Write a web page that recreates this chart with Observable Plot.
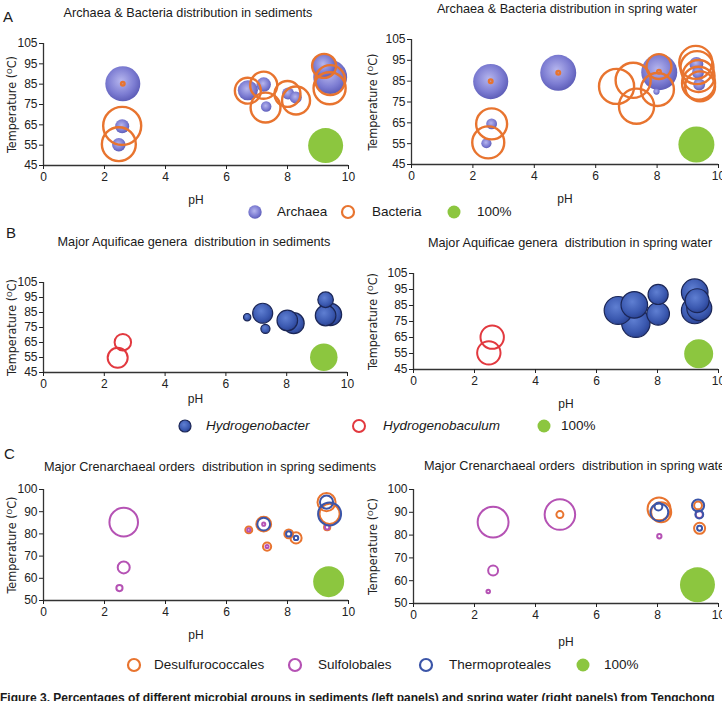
<!DOCTYPE html>
<html>
<head>
<meta charset="utf-8">
<script src="https://cdn.jsdelivr.net/npm/d3@7"></script>
<script src="https://cdn.jsdelivr.net/npm/@observablehq/plot@0.6"></script>
<style>
  body { margin: 0; background: #fff; }
  #fig { position: relative; width: 722px; height: 701px; overflow: hidden;
         font-family: "Liberation Sans", Arial, sans-serif; color: #1a1a1a; }
  .t { position: absolute; white-space: pre; line-height: 1; }
  .title { font-size: 12.7px; transform: translate(-50%, -50%); }
  .ltitle { font-size: 12.7px; transform: translateY(-50%); }
  .letter { font-size: 15px; transform: translateY(-50%); }
  .leg { font-size: 13.5px; transform: translateY(-50%); }
  .caption { font-size: 12px; font-weight: bold; }
  svg.sw { position: absolute; overflow: visible; }
</style>
</head>
<body>
<svg width="0" height="0" style="position:absolute">
  <defs>
    <radialGradient id="archaeaSphere" cx="45%" cy="42%" r="60%">
      <stop offset="0%" stop-color="#b6b6ee"/>
      <stop offset="65%" stop-color="#7c7cd2"/>
      <stop offset="100%" stop-color="#5b5bb6"/>
    </radialGradient>
    <radialGradient id="hbSphere" cx="42%" cy="38%" r="62%">
      <stop offset="0%" stop-color="#5f7fd2"/>
      <stop offset="70%" stop-color="#3b59b0"/>
      <stop offset="100%" stop-color="#2c4596"/>
    </radialGradient>
  </defs>
</svg>
<div id="fig"></div>
<script>
// Each row: pH, temperature (°C), relative abundance (%) shown as bubble size.
// Panel A — Archaea & Bacteria
const sedArchaea = [
  [2.47, 55.2, 15], [2.58, 64.3, 16], [2.60, 85.2, 100], [6.70, 82.0, 33],
  [7.22, 84.8, 17], [7.30, 74.0, 9], [8.02, 80.4, 12], [8.27, 78.4, 12],
  [9.20, 94.0, 45], [9.40, 88.5, 94]
];
const sedBacteria = [
  [2.60, 85.2, 1], [2.58, 64.5, 118], [2.47, 55.5, 94], [6.70, 81.8, 55],
  [7.22, 84.5, 60], [7.28, 73.5, 73], [8.00, 80.2, 55], [8.28, 77.0, 64],
  [9.20, 94.0, 47], [9.40, 87.0, 73], [9.38, 83.0, 84]
];
const waterArchaea = [
  [2.44, 55.2, 8], [2.61, 64.5, 9], [2.58, 84.8, 95], [4.78, 89.0, 100],
  [8.07, 89.3, 100], [7.98, 80.0, 3], [9.28, 93.3, 15], [9.33, 89.0, 11],
  [9.37, 83.4, 11]
];
const waterBacteria = [
  [2.58, 85.0, 1], [4.78, 89.0, 1], [2.61, 64.5, 74], [2.50, 55.6, 79],
  [6.68, 82.5, 95], [7.22, 85.4, 95], [7.33, 73.0, 95], [8.01, 81.0, 84],
  [8.06, 92.0, 48], [8.06, 89.5, 1], [9.26, 94.0, 84], [9.30, 91.5, 84],
  [9.35, 87.5, 79], [9.35, 84.0, 84], [9.40, 82.5, 69]
];
// Panel B — Aquificae genera
const sedHydrogenobacter = [
  [6.70, 81.9, 7], [7.21, 84.5, 53], [7.30, 74.1, 11], [8.02, 79.7, 56],
  [8.23, 77.9, 58], [9.28, 93.5, 32], [9.28, 83.0, 56], [9.44, 83.7, 66]
];
const sedHydrogenobaculum = [[2.61, 65.2, 36], [2.44, 54.8, 53]];
const waterHydrogenobacter = [
  [7.24, 85.4, 84], [6.71, 81.9, 93], [7.29, 73.9, 96], [8.02, 91.9, 48],
  [8.02, 79.8, 61], [9.30, 88.0, 68], [9.22, 93.3, 84], [9.22, 81.9, 84],
  [9.37, 83.3, 74]
];
const waterHydrogenobaculum = [[2.58, 65.2, 65], [2.47, 55.4, 65]];
// Panel C — Crenarchaeal orders
const sedDesulfurococcales = [
  [6.73, 81.8, 5], [7.22, 84.4, 23], [7.33, 74.3, 7], [8.04, 80.0, 8],
  [8.28, 78.2, 13], [9.28, 94.3, 34], [9.38, 89.0, 42], [9.30, 83.0, 4]
];
const sedSulfolobales = [
  [2.63, 85.3, 85], [2.63, 64.9, 15], [2.49, 55.6, 4], [6.73, 81.8, 1],
  [7.22, 84.4, 1], [7.33, 74.3, 1], [9.30, 83.0, 2]
];
const sedThermoproteales = [
  [7.22, 84.4, 17], [8.04, 80.0, 3], [8.28, 78.2, 2], [9.28, 94.3, 18], [9.38, 89.0, 55]
];
const waterDesulfurococcales = [
  [4.80, 89.0, 4], [8.05, 91.5, 43], [8.12, 90.0, 33], [9.33, 93.0, 5], [9.38, 83.0, 10]
];
const waterSulfolobales = [
  [2.61, 85.7, 78], [2.61, 64.5, 8], [2.45, 55.3, 1], [4.80, 89.0, 76],
  [8.06, 79.5, 1.5], [9.37, 89.0, 4]
];
const waterThermoproteales = [
  [8.06, 90.0, 26], [8.03, 92.5, 5], [9.33, 93.0, 12], [9.37, 89.0, 5], [9.38, 83.0, 2]
];
// 100% reference bubbles
const keyA = [[9.25, 54.8, 100]], keyAw = [[9.28, 54.6, 100]];
const keyB = [[9.22, 55.2, 100]], keyBw = [[9.35, 54.8, 100]];
const keyC = [[9.35, 58.5, 100]], keyCw = [[9.31, 58.2, 100]];

const pHTicks = [0, 2, 4, 6, 8, 10];
const tempTicksAB = [45, 55, 65, 75, 85, 95, 105];
const tempTicksC = [50, 60, 70, 80, 90, 100];

const ORANGE = "#e8742f", RED = "#e2393f", MAGENTA = "#b552b4", BLUE = "#3b55a8",
      GREEN = "#8cc63f", AXIS = "#333";

const fig = document.getElementById("fig");
const enc = {x: d => d[0], y: d => d[1], r: d => d[2]};
const spheres = (data, fill, extra = {}) => Plot.dot(data, {...enc, fill, ...extra});
const rings = (data, stroke, w = 2.4) => Plot.dot(data, {...enc, stroke, strokeWidth: w, fill: "none"});

function drawPanel(p) {
  const svg = Plot.plot({
    width: p.width, height: p.height,
    marginLeft: p.ml, marginRight: p.mr, marginTop: p.mt, marginBottom: p.mb,
    style: {background: "transparent", fontFamily: '"Liberation Sans", Arial, sans-serif'},
    x: {domain: [0, 10]},
    y: {domain: p.yDomain},
    r: {type: "sqrt", domain: [0, 100], range: [0, p.R]},
    marks: [
      Plot.ruleY([p.yDomain[0]], {stroke: AXIS, strokeWidth: 1.3}),
      Plot.ruleX([0], {stroke: AXIS, strokeWidth: 1.3}),
      Plot.axisX({ticks: pHTicks, tickSize: 4, tickPadding: 3, fontSize: 12, color: "#222",
        label: "pH", labelAnchor: "center", labelArrow: "none", labelOffset: p.xlo}),
      Plot.axisY({ticks: p.yTicks, tickSize: 4, tickPadding: 2, fontSize: 12, color: "#222",
        label: "Temperature (ᴼC)", labelAnchor: "center", labelArrow: "none", labelOffset: p.ml - 7}),
      ...p.layers,
      Plot.dot(p.key, {...enc, fill: GREEN})
    ]
  });
  svg.style.position = "absolute";
  svg.style.left = p.left + "px";
  svg.style.top = p.top + "px";
  d3.select(svg).selectAll('g[aria-label="y-axis label"] text')
    .style("font-family", '"Liberation Sans Narrow", "DejaVu Sans Condensed", "Liberation Sans", sans-serif')
    .style("font-size", "12.5px");
  fig.appendChild(svg);
}

drawPanel({left: 0, top: 25, width: 361, height: 190, ml: 43, mr: 13, mt: 18, mb: 50, xlo: 38,
  yDomain: [45, 105], yTicks: tempTicksAB, R: 17.5, key: keyA,
  layers: [spheres(sedArchaea, "url(#archaeaSphere)"), rings(sedBacteria, ORANGE)]});
drawPanel({left: 361, top: 21, width: 361, height: 190, ml: 50, mr: 4, mt: 18, mb: 47, xlo: 38,
  yDomain: [45, 105], yTicks: tempTicksAB, R: 18, key: keyAw,
  layers: [spheres(waterArchaea, "url(#archaeaSphere)"), rings(waterBacteria, ORANGE)]});
drawPanel({left: 0, top: 264, width: 361, height: 145, ml: 43, mr: 14, mt: 18, mb: 37, xlo: 30,
  yDomain: [45, 105], yTicks: tempTicksAB, R: 13.75, key: keyB,
  layers: [spheres(sedHydrogenobacter, "url(#hbSphere)", {stroke: "#1b2656", strokeWidth: 1.2}),
           rings(sedHydrogenobaculum, RED, 2)]});
drawPanel({left: 361, top: 255, width: 361, height: 160, ml: 52, mr: 4, mt: 18, mb: 46, xlo: 38,
  yDomain: [45, 105], yTicks: tempTicksAB, R: 14.5, key: keyBw,
  layers: [spheres(waterHydrogenobacter, "url(#hbSphere)", {stroke: "#1b2656", strokeWidth: 1.2}),
           rings(waterHydrogenobaculum, RED, 2)]});
drawPanel({left: 0, top: 471, width: 361, height: 185, ml: 43, mr: 13, mt: 18, mb: 56, xlo: 38,
  yDomain: [50, 100], yTicks: tempTicksC, R: 15.5, key: keyC,
  layers: [rings(sedDesulfurococcales, ORANGE, 2), rings(sedSulfolobales, MAGENTA, 2),
           rings(sedThermoproteales, BLUE, 2)]});
drawPanel({left: 361, top: 471, width: 361, height: 190, ml: 52, mr: 4, mt: 18, mb: 58, xlo: 42,
  yDomain: [50, 100], yTicks: tempTicksC, R: 17.5, key: keyCw,
  layers: [rings(waterDesulfurococcales, ORANGE, 2), rings(waterSulfolobales, MAGENTA, 2),
           rings(waterThermoproteales, BLUE, 2)]});

// Text: panel letters, titles, legends, caption
function text(cls, x, y, str, style = "") {
  const el = document.createElement("div");
  el.className = "t " + cls;
  el.style.left = x + "px";
  el.style.top = y + "px";
  if (style) el.style.cssText += style;
  el.textContent = str;
  fig.appendChild(el);
}
function swatch(cx, cy, r, fill, stroke, sw) {
  const s = d3.create("svg").attr("class", "sw").attr("width", 1).attr("height", 1)
    .style("left", cx + "px").style("top", cy + "px");
  s.append("circle").attr("r", r).attr("fill", fill).attr("stroke", stroke || "none")
    .attr("stroke-width", sw || 0);
  fig.appendChild(s.node());
}

text("letter", 3, 16, "A");
text("letter", 6, 232, "B");
text("letter", 4, 453, "C");

text("title", 188, 13, "Archaea & Bacteria distribution in sediments");
text("title", 567, 9, "Archaea & Bacteria distribution in spring water");
text("title", 194, 242, "Major Aquificae genera  distribution in sediments");
text("title", 570, 243, "Major Aquificae genera  distribution in spring water");
text("title", 210, 467, "Major Crenarchaeal orders  distribution in spring sediments");
text("ltitle", 424, 466, "Major Crenarchaeal orders  distribution in spring water");

// legend A
swatch(255, 212, 6.7, "url(#archaeaSphere)");
text("leg", 277, 212, "Archaea");
swatch(348, 212, 6, "none", ORANGE, 2.2);
text("leg", 372, 212, "Bacteria");
swatch(454, 212, 6.5, GREEN);
text("leg", 477, 212, "100%");

// legend B
swatch(185, 426, 6, "url(#hbSphere)", "#1b2656", 1.2);
text("leg", 206, 426, "Hydrogenobacter", "font-style:italic");
swatch(359, 426, 6, "none", RED, 2);
text("leg", 383, 426, "Hydrogenobaculum", "font-style:italic");
swatch(544, 426, 6.5, GREEN);
text("leg", 561, 426, "100%");

// legend C
swatch(134, 665, 6, "none", ORANGE, 2.2);
text("leg", 154, 665, "Desulfurococcales");
swatch(295, 665, 6, "none", MAGENTA, 2.2);
text("leg", 318, 665, "Sulfolobales");
swatch(426, 665, 6, "none", BLUE, 2.2);
text("leg", 449, 665, "Thermoproteales");
swatch(583, 665, 6.5, GREEN);
text("leg", 604, 665, "100%");

text("caption", 0, 692, "Figure 3. Percentages of different microbial groups in sediments (left panels) and spring water (right panels) from Tengchong");
</script>
</body>
</html>
